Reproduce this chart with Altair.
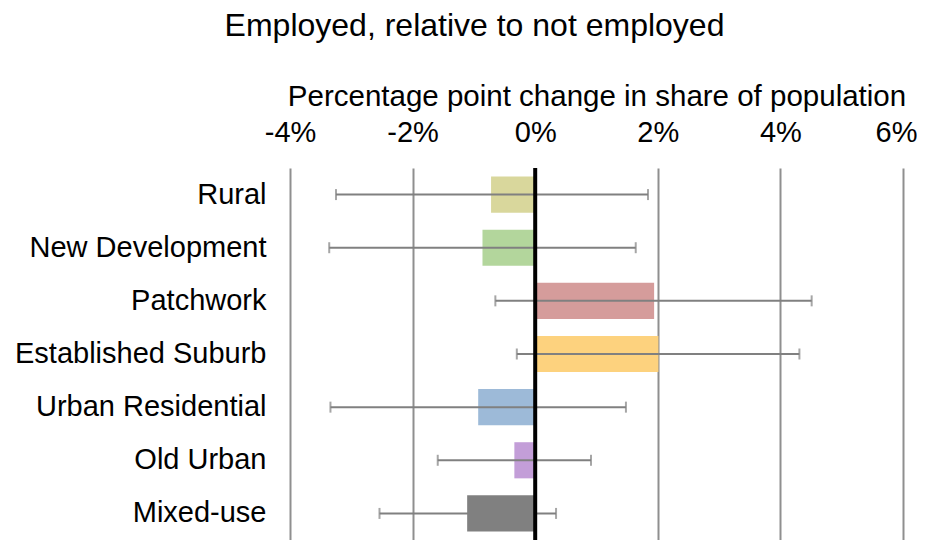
import altair as alt
import pandas as pd

categories = ["Rural", "New Development", "Patchwork", "Established Suburb",
              "Urban Residential", "Old Urban", "Mixed-use"]
values = [-0.72, -0.86, 1.94, 2.01, -0.93, -0.34, -1.11]
err_low = [-3.25, -3.36, -0.65, -0.30, -3.34, -1.59, -2.54]
err_high = [1.84, 1.64, 4.51, 4.31, 1.48, 0.91, 0.34]
colors = ["#d9d79c", "#b3d69c", "#d59c9b", "#fdd27e", "#9dbad8", "#c39ed8", "#808080"]
tick_values = [-4, -2, 0, 2, 4, 6]
zero = [0]

df = pd.DataFrame({"cat": categories, "val": values, "lo": err_low, "hi": err_high})
zdf = pd.DataFrame({"z": zero})

FONT = "Liberation Sans"

xscale = alt.Scale(domain=[-4, 6], nice=False, zero=False)
yscale = alt.Scale(domain=categories, paddingInner=0.32, paddingOuter=0.16)

x_axis = alt.Axis(
    orient="top", values=tick_values, labelExpr="datum.value + '%'",
    domain=False, ticks=False, grid=True, gridColor="#8f8f8f", gridWidth=2,
    labelFontSize=29, labelFont=FONT, labelColor="black", labelPadding=21,
    labelFlush=False,
    labelOffset=alt.condition("datum.value == 6", alt.value(-7), alt.value(0)),
    title="Percentage point change in share of population",
    titleFontSize=29.5, titleFont=FONT, titleColor="black", titleFontWeight="normal",
    titlePadding=7,
)
y_axis = alt.Axis(
    domain=False, ticks=False, grid=False, labelFontSize=29, labelFont=FONT,
    labelColor="black", labelPadding=24, labelLimit=400,
)

base = alt.Chart(df)

bars = base.mark_bar().encode(
    x=alt.X("val:Q", scale=xscale, axis=x_axis, title="Percentage point change in share of population"),
    x2=alt.X2(datum=0),
    y=alt.Y("cat:N", scale=yscale, axis=y_axis, sort=categories, title=None),
    color=alt.Color("cat:N", scale=alt.Scale(domain=categories, range=colors), legend=None),
)

err_line = base.mark_rule(color="#808080", strokeWidth=2).encode(
    x=alt.X("lo:Q", scale=xscale),
    x2="hi:Q",
    y=alt.Y("cat:N", scale=yscale, sort=categories),
)
cap_lo = base.mark_tick(color="#808080", thickness=2, size=11, orient="vertical").encode(
    x=alt.X("lo:Q", scale=xscale),
    y=alt.Y("cat:N", scale=yscale, sort=categories),
)
cap_hi = base.mark_tick(color="#808080", thickness=2, size=11, orient="vertical").encode(
    x=alt.X("hi:Q", scale=xscale),
    y=alt.Y("cat:N", scale=yscale, sort=categories),
)

zero_line = alt.Chart(zdf).mark_rule(color="black", strokeWidth=4).encode(
    x=alt.X("z:Q", scale=xscale),
)

chart = alt.layer(bars, err_line, cap_lo, cap_hi, zero_line).properties(
    width=613,
    height=372,
    padding={"left": 282, "top": 160, "right": 14, "bottom": 0},
    autosize=alt.AutoSizeParams(type="none"),
    title=alt.Title(
        "Employed, relative to not employed",
        fontSize=32, font=FONT, color="black", fontWeight="normal",
        anchor="middle", dx=-122, offset=38,
    ),
).configure_view(stroke=None)

chart.save("out.html", embed_options={"renderer": "svg", "actions": False})
